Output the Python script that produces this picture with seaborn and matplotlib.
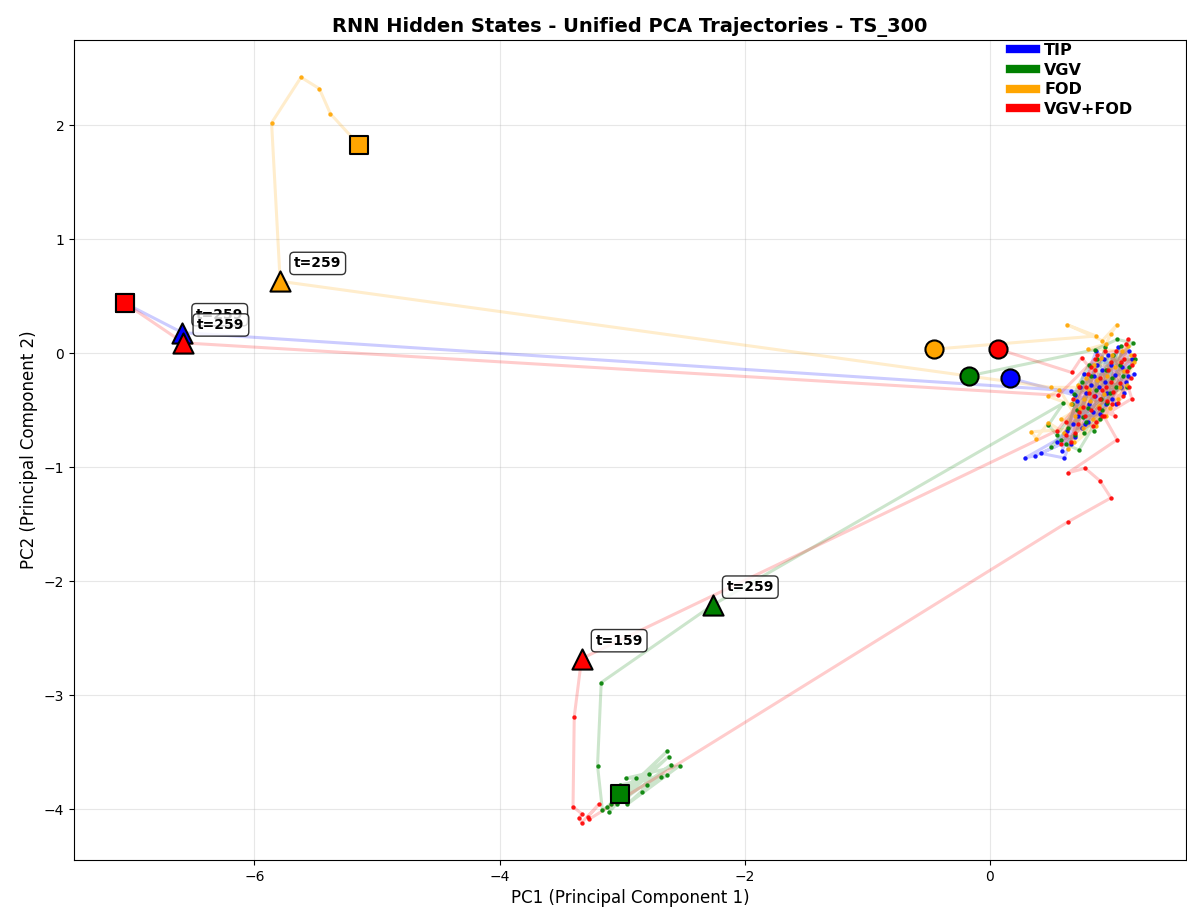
import matplotlib
matplotlib.use("Agg")
import matplotlib.pyplot as plt
from matplotlib.lines import Line2D
import pandas as pd
import seaborn as sns

# ---------------- data (PC1, PC2) ----------------
series_names = ["TIP", "VGV", "FOD", "VGV+FOD"]
series_colors = ["blue", "green", "orange", "red"]

# ---- TIP ----
tip_start = (0.17, -0.22)
tip_cluster = [(0.70, -0.37), (0.85, -0.20), (0.95, -0.45), (0.78, -0.62), (0.29, -0.92), (0.37, -0.90),
               (0.70, -0.74), (0.42, -0.88), (0.61, -0.92), (0.88, -0.10), (1.02, -0.19), (1.10, -0.35),
               (0.93, -0.05), (0.74, -0.30), (0.66, -0.80), (0.55, -0.78), (0.81, -0.45), (0.97, -0.02),
               (1.13, -0.20), (1.05, 0.05), (0.90, -0.53), (0.72, -0.55), (0.83, -0.28), (1.00, -0.40),
               (1.16, -0.05), (1.08, -0.12), (0.86, -0.38), (0.68, -0.62), (0.59, -0.86), (0.77, -0.18),
               (0.94, -0.25), (1.07, -0.30), (1.14, 0.02), (0.99, -0.10), (0.80, -0.60), (0.71, -0.42),
               (0.89, -0.30), (1.03, -0.45), (0.92, -0.15), (0.75, -0.66), (0.84, -0.52), (1.18, -0.18),
               (0.96, -0.35), (0.63, -0.68), (0.87, 0.02), (1.11, -0.25), (0.79, -0.35), (0.66, -0.33)]
tip_event_259 = (-6.59, 0.18)
tip_end = (-7.06, 0.44)

# ---- VGV ----
vgv_start = (-0.17, -0.20)
vgv_cluster = [(0.86, 0.03), (1.04, 0.12), (1.17, 0.09), (0.95, -0.15), (0.80, -0.48), (0.50, -0.82),
               (0.58, -0.76), (0.70, -0.72), (0.88, -0.05), (1.06, -0.10), (0.92, -0.50), (0.75, -0.25),
               (0.64, -0.66), (0.98, -0.35), (1.12, -0.30), (0.83, -0.20), (0.67, -0.45), (0.90, -0.58),
               (1.01, -0.02), (1.09, -0.20), (0.79, -0.60), (0.62, -0.80), (0.73, -0.85), (0.96, -0.44),
               (1.14, -0.12), (0.87, -0.32), (0.71, -0.50), (0.85, -0.68), (1.03, -0.30), (0.94, 0.05),
               (0.77, -0.70), (1.19, -0.05), (0.81, -0.10), (0.69, -0.36), (1.00, -0.22), (0.91, -0.40),
               (0.76, -0.56), (1.07, 0.06), (0.55, -0.72), (0.48, -0.63), (0.60, -0.44)]
vgv_event_259 = (-2.26, -2.21)
vgv_tail = [(-3.17, -2.89), (-3.20, -3.62), (-3.16, -4.01), (-3.12, -3.98), (-2.89, -3.73), (-3.11, -4.03),
            (-2.63, -3.49), (-3.09, -3.96), (-2.62, -3.54), (-3.04, -3.96), (-2.60, -3.61), (-2.96, -3.96),
            (-2.53, -3.62), (-2.97, -3.73), (-2.68, -3.72), (-2.84, -3.85), (-2.78, -3.69), (-2.80, -3.79),
            (-2.63, -3.70), (-3.02, -3.79)]
vgv_end = (-3.02, -3.87)

# ---- FOD ----
fod_start = (-0.45, 0.035)
fod_cluster = [(0.87, 0.15), (0.63, 0.25), (0.92, 0.11), (1.04, 0.25), (0.99, 0.17), (0.95, 0.08),
               (0.80, 0.035), (1.08, 0.02), (0.96, -0.20), (0.82, -0.42), (0.70, -0.55), (0.57, -0.32),
               (0.48, -0.38), (0.66, -0.45), (0.85, -0.10), (1.02, -0.12), (1.15, -0.02), (0.93, -0.36),
               (0.76, -0.66), (0.34, -0.69), (0.38, -0.75), (0.48, -0.61), (0.61, -0.70), (0.79, -0.22),
               (0.98, -0.48), (1.12, -0.28), (0.89, -0.46), (0.72, -0.28), (0.69, -0.78), (0.84, -0.58),
               (1.05, -0.40), (1.18, -0.08), (0.91, -0.04), (0.74, -0.48), (0.58, -0.58), (0.87, -0.64),
               (1.00, -0.02), (1.10, -0.16), (0.81, -0.32), (0.64, -0.84), (0.95, -0.55), (1.13, 0.06),
               (0.77, -0.40), (0.88, -0.24), (1.06, -0.30), (0.50, -0.30)]
fod_event_259 = (-5.79, 0.63)
fod_tail = [(-5.86, 2.02), (-5.62, 2.42), (-5.47, 2.32), (-5.38, 2.10)]
fod_end = (-5.15, 1.83)

# ---- VGV+FOD ----
vgvfod_start = (0.07, 0.035)
vgvfod_cluster_a = [(0.67, -0.17), (0.75, -0.04), (0.95, -0.30), (1.10, -0.05), (1.13, 0.12), (1.00, -0.45),
                    (0.86, -0.15), (0.72, -0.62), (0.81, -0.35), (1.06, -0.26), (1.16, -0.10), (0.92, -0.55),
                    (0.78, -0.55), (0.66, -0.78), (0.88, -0.02), (1.03, 0.02), (0.97, -0.15), (0.84, -0.64),
                    (1.09, -0.38), (0.73, -0.30), (0.90, -0.40), (1.15, -0.22), (0.62, -0.60), (0.83, -0.50),
                    (0.99, -0.08), (0.55, -0.68)]
vgvfod_event_159 = (-3.33, -2.68)
vgvfod_excursion = [(-3.39, -3.19), (-3.40, -3.98), (-3.33, -4.04), (-3.35, -4.08), (-3.33, -4.12),
                    (-3.19, -3.96), (-3.28, -4.07), (-3.27, -4.09), (0.64, -1.48), (0.99, -1.27),
                    (0.90, -1.12), (0.78, -1.01), (0.64, -1.05), (1.04, -0.76)]
vgvfod_cluster_b = [(0.93, -0.55), (1.16, -0.40), (1.07, -0.08), (0.90, -0.22), (0.76, -0.47), (0.62, -0.72),
                    (0.83, -0.12), (1.01, -0.34), (1.12, -0.16), (0.94, 0.02), (0.79, -0.30), (0.70, -0.70),
                    (0.87, -0.60), (1.05, -0.44), (1.18, -0.02), (0.99, -0.25), (0.85, -0.38), (0.73, -0.52),
                    (0.96, -0.42), (1.11, 0.08), (0.89, -0.48), (0.68, -0.40), (1.02, -0.55), (0.80, -0.18),
                    (0.92, -0.32), (1.14, -0.30), (0.58, -0.80), (0.86, -0.05), (0.56, -0.37)]
vgvfod_event_259 = (-6.58, 0.09)
vgvfod_end = (-7.06, 0.44)

# each series: ordered list of segments; a segment is (kind, points, label)
series_segments = [
    [("start", [tip_start], None), ("path", tip_cluster, None), ("event", [tip_event_259], "t=259"),
     ("end", [tip_end], None)],
    [("start", [vgv_start], None), ("path", vgv_cluster, None), ("event", [vgv_event_259], "t=259"),
     ("path", vgv_tail, None), ("end", [vgv_end], None)],
    [("start", [fod_start], None), ("path", fod_cluster, None), ("event", [fod_event_259], "t=259"),
     ("path", fod_tail, None), ("end", [fod_end], None)],
    [("start", [vgvfod_start], None), ("path", vgvfod_cluster_a, None),
     ("event", [vgvfod_event_159], "t=159"), ("path", vgvfod_excursion, None),
     ("path", vgvfod_cluster_b, None), ("event", [vgvfod_event_259], "t=259"),
     ("end", [vgvfod_end], None)],
]

# ---------------- figure ----------------
fig = plt.figure(figsize=(11.87, 9.18), dpi=100)
ax = fig.add_axes([74 / 1187, 58 / 918, 1112 / 1187, 820 / 918])

frames = []
for name, color, segs in zip(series_names, series_colors, series_segments):
    rows = []
    for kind, pts, lab in segs:
        for p in pts:
            rows.append({"pc1": p[0], "pc2": p[1], "kind": kind, "label": lab})
    df = pd.DataFrame(rows)
    df["step"] = range(len(df))
    frames.append(df)

for df, color in zip(frames, series_colors):
    sns.lineplot(data=df, x="pc1", y="pc2", sort=False, estimator=None, color=color,
                 alpha=0.2, linewidth=2.2, ax=ax, zorder=1)
    sns.scatterplot(data=df, x="pc1", y="pc2", color=color, s=10, linewidth=0, alpha=0.9,
                    ax=ax, zorder=2, legend=False)

marker_style = {"start": ("o", 170), "end": ("s", 170), "event": ("^", 210)}
for df, color in zip(frames, series_colors):
    for kind in ["start", "end", "event"]:
        sub = df[df["kind"] == kind]
        mk, sz = marker_style[kind]
        sns.scatterplot(data=sub, x="pc1", y="pc2", color=color, marker=mk, s=sz,
                        edgecolor="black", linewidth=1.5, ax=ax, zorder=5, legend=False)
        if kind == "event":
            for _, r in sub.iterrows():
                ax.annotate(r["label"], (r["pc1"], r["pc2"]), xytext=(10, 10),
                            textcoords="offset points", fontsize=10, fontweight="bold",
                            bbox=dict(boxstyle="round,pad=0.3", facecolor="white", alpha=0.8,
                                      edgecolor="black"), zorder=6)

ax.set_title("RNN Hidden States - Unified PCA Trajectories - TS_300", fontsize=14, fontweight="bold")
ax.set_xlabel("PC1 (Principal Component 1)", fontsize=12)
ax.set_ylabel("PC2 (Principal Component 2)", fontsize=12)
ax.grid(True, alpha=0.3)
ax.set_axisbelow(True)

handles = [Line2D([0], [0], color=c, lw=6) for c in series_colors]
ax.legend(handles, series_names, loc="upper left", bbox_to_anchor=(0.8345, 1.006),
          frameon=False, prop={"weight": "bold", "size": 11.5}, labelspacing=0.29,
          borderaxespad=0.1, handlelength=1.65, handletextpad=0.5)

fig.savefig("out.png", dpi=100)
